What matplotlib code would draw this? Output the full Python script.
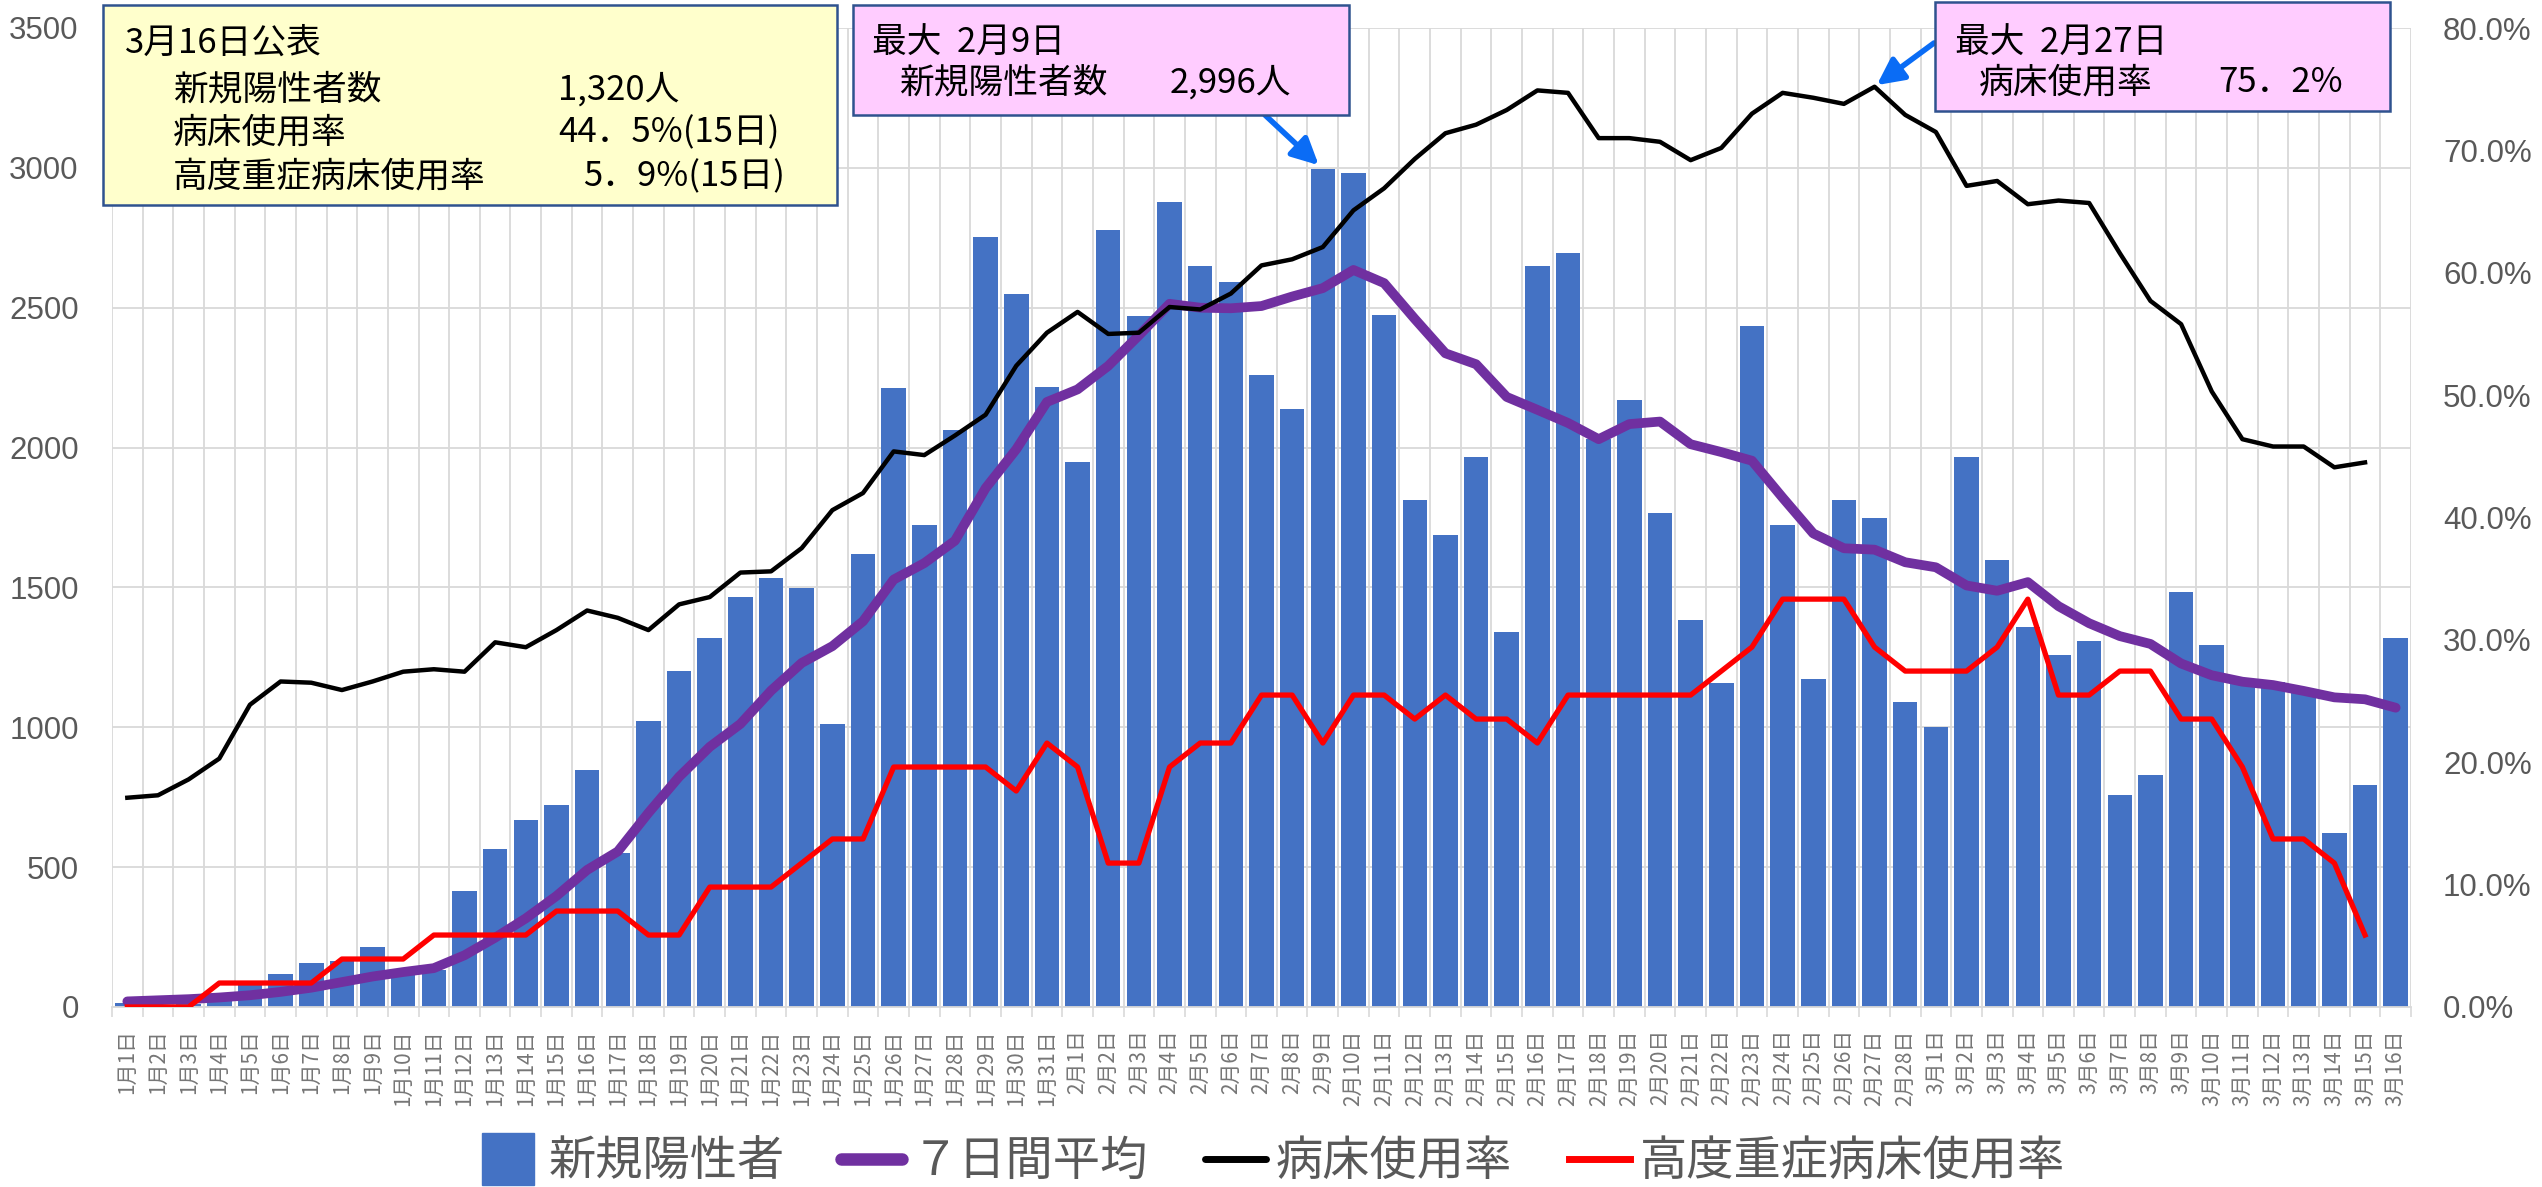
import numpy as np
import matplotlib.pyplot as plt
from matplotlib.patches import Rectangle
from matplotlib.lines import Line2D

plt.rcParams['font.family'] = ['Noto Sans CJK JP', 'DejaVu Sans']

# daily labels 1/1 .. 3/16
labels = [f"{m}月{d}日" for m, n in ((1, 31), (2, 28), (3, 16)) for d in range(1, n + 1)]

# new positives per day
cases = [15, 8, 10, 25, 80, 119, 159, 165, 214, 130, 131, 413, 565, 669, 722, 847, 550, 1022, 1200, 1320,
         1466, 1532, 1498, 1010, 1621, 2212, 1724, 2063, 2754, 2548, 2216,
         1950, 2778, 2470, 2877, 2649, 2593, 2258, 2139, 2996, 2981, 2474, 1812, 1686, 1965, 1340, 2649,
         2695, 2030, 2170, 1767, 1384, 1158, 2433, 1723, 1172, 1812, 1749, 1092,
         1002, 1967, 1598, 1358, 1258, 1307, 758, 830, 1484, 1293, 1170, 1163, 1123, 621, 795, 1320]

# 7-day average
avg7 = [20, 24, 28, 34, 42, 54, 69, 89, 109, 125, 139, 185, 248, 317, 397, 490, 556, 694, 823, 930,
        1012, 1131, 1230, 1290, 1379, 1528, 1587, 1667, 1855, 1994, 2163,
        2208, 2292, 2401, 2514, 2500, 2498, 2506, 2540, 2570, 2635, 2588, 2460, 2337, 2298, 2181, 2135,
        2088, 2030, 2084, 2093, 2012, 1984, 1953, 1821, 1693, 1640, 1635, 1590,
        1572, 1507, 1488, 1519, 1433, 1372, 1326, 1298, 1228, 1186, 1163, 1151, 1130, 1107, 1100, 1070]

# bed usage rate (%)
bed = [17.1, 17.3, 18.6, 20.3, 24.7, 26.6, 26.5, 25.9, 26.6, 27.4, 27.6, 27.4, 29.8, 29.4, 30.8, 32.4,
       31.8, 30.8, 32.9, 33.5, 35.5, 35.6, 37.5, 40.6, 42.0, 45.4, 45.1, 46.7, 48.4, 52.4, 55.1,
       56.8, 55.0, 55.1, 57.2, 57.0, 58.3, 60.6, 61.1, 62.1, 65.1, 66.9, 69.3, 71.4, 72.1, 73.3, 74.9,
       74.7, 71.0, 71.0, 70.7, 69.2, 70.2, 73.0, 74.7, 74.3, 73.8, 75.2, 72.9,
       71.5, 67.1, 67.5, 65.6, 65.9, 65.7, 61.6, 57.7, 55.8, 50.3, 46.4, 45.8, 45.8, 44.1, 44.5, np.nan]

# severe bed usage rate (%)
severe = [0, 0, 0, 1.96, 1.96, 1.96, 1.96, 3.92, 3.92, 3.92, 5.88, 5.88, 5.88, 5.88, 7.84, 7.84, 7.84,
          5.88, 5.88, 9.80, 9.80, 9.80, 11.76, 13.73, 13.73, 19.61, 19.61, 19.61, 19.61, 17.65, 21.57,
          19.61, 11.76, 11.76, 19.61, 21.57, 21.57, 25.49, 25.49, 21.57, 25.49, 25.49, 23.53, 25.49,
          23.53, 23.53, 21.57, 25.49, 25.49, 25.49, 25.49, 25.49, 27.45, 29.41, 33.33, 33.33, 33.33,
          29.41, 27.45,
          27.45, 27.45, 29.41, 33.33, 25.49, 25.49, 27.45, 27.45, 23.53, 23.53, 19.61, 13.73, 13.73,
          11.76, 5.88, np.nan]

W, H = 2542, 1187
GRAY = '#595959'
GRID = '#D9D9D9'


def fx(px):
    return px / W


def fy(py):
    return 1 - py / H


fig = plt.figure(figsize=(W / 100, H / 100), dpi=100)
ax = fig.add_axes([fx(112), fy(1007), fx(2411) - fx(112), fy(28) - fy(1007)])

x = np.arange(len(cases))
ax.bar(x, cases, width=0.8, color='#4472C4', zorder=2)
ax.plot(x, avg7, color='#7030A0', lw=7, solid_capstyle='round', zorder=3)

ax.set_xlim(-0.5, len(cases) - 0.5)
ax.set_ylim(0, 3500)
ax.set_yticks(range(0, 3501, 500))
ax.set_xticks(np.arange(-0.5, len(cases), 1))
ax.set_xticklabels([])
ax.set_xticks(x, minor=True)
ax.set_xticklabels(labels, minor=True, rotation=90, fontsize=15, color='#767676')
ax.tick_params(axis='x', which='major', length=7, color=GRID, width=1.2)
ax.tick_params(axis='x', which='minor', length=0, pad=16)
ax.tick_params(axis='y', length=0, pad=24, labelsize=22.5, labelcolor=GRAY)
for t in ax.get_yticklabels():
    t.set_fontfamily('Liberation Sans')
ax.grid(axis='both', which='major', color=GRID, lw=1.3, zorder=0)
ax.set_axisbelow(True)
for s in ['top', 'left', 'right']:
    ax.spines[s].set_visible(False)
ax.spines['bottom'].set_color(GRID)
ax.spines['bottom'].set_linewidth(1.3)

ax2 = ax.twinx()
ax2.plot(x, bed, color='black', lw=3.2, zorder=3)
ax2.plot(x, severe, color='#FF0000', lw=3.8, zorder=4)
ax2.set_ylim(0, 80)
ax2.set_yticks(range(0, 81, 10))
ax2.set_yticklabels([f"{v:.1f}%" for v in range(0, 81, 10)])
ax2.tick_params(axis='y', length=0, pad=23, labelsize=22.5, labelcolor=GRAY)
for t in ax2.get_yticklabels():
    t.set_fontfamily('Liberation Sans')
for s in ax2.spines.values():
    s.set_visible(False)


def box(x0, y0, x1, y1, fc):
    fig.add_artist(Rectangle((fx(x0), fy(y1)), fx(x1) - fx(x0), fy(y0) - fy(y1),
                             transform=fig.transFigure, facecolor=fc, edgecolor='#2F528F',
                             lw=1.8, zorder=5))


def txt(px, py, s):
    fig.text(fx(px), fy(py), s, ha='left', va='center', fontsize=25, color='black', zorder=6)


# summary box
box(103, 5, 837, 205, '#FFFFCC')
txt(125, 43, "3月16日公表")
txt(173, 90, "新規陽性者数")
txt(558, 90, "1,320人")
txt(173, 133, "病床使用率")
txt(558, 133, "44．5%(15日)")
txt(173, 177, "高度重症病床使用率")
txt(583, 177, "5．9%(15日)")

# peak of new positives
box(853, 5, 1349, 115, '#FFCCFF')
txt(872, 43, "最大  2月9日")
txt(899, 83, "新規陽性者数")
txt(1170, 83, "2,996人")
ax.annotate('', xy=(39, 2996), xycoords='data', xytext=(fx(1265), fy(115)),
            textcoords='figure fraction', annotation_clip=False,
            arrowprops=dict(arrowstyle='-|>', color='#0A6CF5', lw=4, mutation_scale=40,
                            shrinkA=0, shrinkB=4), zorder=6)

# peak of bed usage
box(1935, 2, 2390, 111, '#FFCCFF')
txt(1955, 43, "最大  2月27日")
txt(1979, 83, "病床使用率")
txt(2218, 83, "75．2%")
ax2.annotate('', xy=(57, 75.2), xycoords='data', xytext=(fx(1934), fy(43)),
             textcoords='figure fraction', annotation_clip=False,
             arrowprops=dict(arrowstyle='-|>', color='#0A6CF5', lw=4, mutation_scale=40,
                             shrinkA=0, shrinkB=2), zorder=6)

handles = [
    Line2D([], [], marker='s', ls='none', ms=37, color='#4472C4'),
    Line2D([], [], color='#7030A0', lw=9, solid_capstyle='round'),
    Line2D([], [], color='black', lw=5, solid_capstyle='round'),
    Line2D([], [], color='#FF0000', lw=5),
]
names = ["新規陽性者", "７日間平均", "病床使用率", "高度重症病床使用率"]
fig.legend(handles, names, loc='center', bbox_to_anchor=(0.5, fy(1162)), ncol=4, frameon=False,
           fontsize=34, handlelength=1.3, handletextpad=0.2, columnspacing=1.2, labelcolor=GRAY)

fig.savefig('out.png', dpi=100)
